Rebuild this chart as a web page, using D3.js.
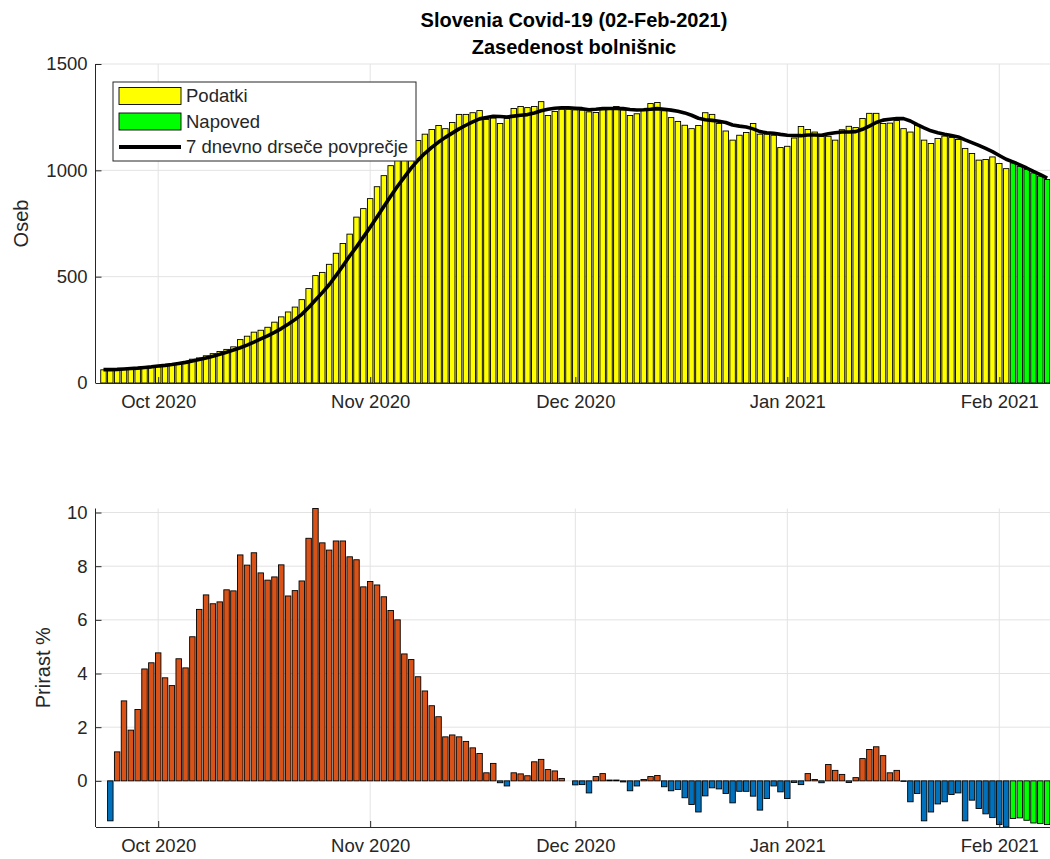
<!DOCTYPE html>
<html>
<head>
<meta charset="utf-8">
<script src="https://cdn.jsdelivr.net/npm/d3@7"></script>
<style>
  body { margin: 0; background: #fff; }
  text { font-family: "Liberation Sans", Arial, Helvetica, sans-serif; }
</style>
</head>
<body>
<div class="mainDiv"></div>
<script>
// days shown: 23 Sep 2020 .. 8 Feb 2021 (last 6 are forecast)
const dates = d3.timeDay.range(new Date(2020, 8, 23), new Date(2021, 1, 9));
const monthTicks = [new Date(2020, 9, 1), new Date(2020, 10, 1), new Date(2020, 11, 1), new Date(2021, 0, 1), new Date(2021, 1, 1)];
const tickLabels = ["Oct 2020", "Nov 2020", "Dec 2020", "Jan 2021", "Feb 2021"];

// hospital occupancy (Podatki), 23 Sep .. 2 Feb
const podatki = [
  62, 60, 61, 64, 64, 67, 70, 72,
  76, 80, 83, 87, 93, 112, 118, 128, 138, 148, 158, 170, 204, 220, 239, 248, 262, 286, 311, 334, 357, 392, 444, 505, 520, 558, 610, 656, 700, 780, 820,
  867, 923, 975, 1022, 1070, 1100, 1118, 1140, 1170, 1192, 1211, 1196, 1225, 1263, 1263, 1271, 1281, 1239, 1246, 1220, 1244, 1291, 1300, 1295, 1300, 1323, 1258, 1277, 1287, 1287,
  1284, 1283, 1275, 1272, 1286, 1290, 1300, 1284, 1258, 1266, 1281, 1314, 1319, 1280, 1248, 1230, 1212, 1196, 1211, 1271, 1263, 1220, 1185, 1142, 1165, 1178, 1220, 1170, 1170, 1165, 1107,
  1113, 1152, 1206, 1192, 1180, 1159, 1160, 1142, 1191, 1207, 1201, 1244, 1268, 1268, 1220, 1222, 1234, 1196, 1180, 1212, 1142, 1126, 1150, 1161, 1154, 1145, 1103, 1079, 1048, 1051, 1063,
  1032, 1008
];
// forecast (Napoved), 3 Feb .. 8 Feb
const napoved = [1035, 1019, 1005, 988, 973, 957];

// 7 dnevno drseče povprečje, 23 Sep .. 8 Feb
const povprecje = [
  63, 63, 64, 66, 68, 70, 73, 76,
  80, 83, 87, 92, 97, 103, 110, 118, 126, 135, 145, 155, 166, 178, 192, 207, 222, 238, 256, 276, 298, 323, 355, 390, 425, 462, 505, 550, 597, 640, 686,
  732, 780, 830, 878, 925, 968, 1010, 1048, 1080, 1108, 1133, 1155, 1175, 1195, 1212, 1228, 1242, 1248, 1254, 1253, 1251, 1255, 1259, 1262, 1270, 1280, 1287, 1292, 1294, 1294,
  1292, 1290, 1285, 1287, 1290, 1291, 1291, 1290, 1286, 1284, 1285, 1287, 1290, 1287, 1283, 1278, 1270, 1259, 1245, 1238, 1235, 1231, 1225, 1213, 1208, 1204, 1195, 1182, 1177, 1174, 1169,
  1165, 1164, 1163, 1166, 1166, 1165, 1172, 1177, 1180, 1180, 1182, 1193, 1208, 1225, 1236, 1240, 1244, 1243, 1232, 1215, 1200, 1186, 1177, 1170, 1164, 1157, 1143, 1130, 1117, 1103, 1088,
  1070, 1052, 1040, 1026, 1011, 995, 980, 963
];

// Prirast %, 24 Sep .. 2 Feb
const prirast = [
  -1.49, 1.08, 2.98, 1.89, 2.66, 4.17, 4.40,
  4.77, 3.84, 3.55, 4.55, 4.21, 5.37, 6.39, 6.93, 6.60, 6.67, 7.12, 7.08, 8.42, 8.04, 8.50, 7.75, 7.48, 7.60, 8.05, 6.89, 7.09, 7.45, 9.04, 10.15, 8.87, 8.60, 8.94, 8.94, 8.35, 8.24, 7.23,
  7.43, 7.30, 6.86, 6.35, 6.00, 4.73, 4.52, 3.88, 3.35, 2.80, 2.39, 1.64, 1.71, 1.64, 1.47, 1.23, 1.02, 0.30, 0.65, -0.07, -0.19, 0.30, 0.26, 0.19, 0.71, 0.80, 0.42, 0.37, 0.09, 0.00,
  -0.15, -0.14, -0.45, 0.16, 0.27, 0.03, 0.03, -0.04, -0.37, -0.19, 0.05, 0.16, 0.20, -0.22, -0.37, -0.32, -0.63, -0.88, -1.16, -0.56, -0.26, -0.30, -0.47, -0.82, -0.39, -0.39, -0.57, -1.09, -0.66, -0.19, -0.41,
  -0.66, -0.06, -0.14, 0.27, 0.05, -0.07, 0.61, 0.39, 0.24, -0.06, 0.12, 0.83, 1.17, 1.27, 0.94, 0.30, 0.39, -0.02, -0.78, -0.47, -1.49, -1.16, -0.86, -0.78, -0.51, -0.45, -1.49, -0.72, -1.03, -1.23, -1.37,
  -1.63, -1.72
];
const prirastNapoved = [-1.40, -1.38, -1.47, -1.57, -1.59, -1.63];

const colors = {data: "#ffff00", forecast: "#00ff00", up: "#d95319", down: "#0072bd", axis: "#262626", grid: "#e3e3e3"};

const W = 1050, H = 859;
const svg = d3.select(".mainDiv").append("svg").attr("width", W).attr("height", H);

const x = d3.scaleTime()
  .domain([new Date(2020, 8, 21, 20), new Date(2021, 1, 8, 17)])
  .range([95.5, 1052]);
const bw = 0.8 * (x(new Date(2020, 9, 2)) - x(new Date(2020, 9, 1)));

const pTop = {y0: 64, y1: 383};
const pBot = {y0: 508.5, y1: 827};
const yTop = d3.scaleLinear().domain([0, 1500]).range([pTop.y1, pTop.y0]);
const yBot = d3.scaleLinear().domain([-1.72, 10.15]).range([pBot.y1, pBot.y0]);

const barsTop = dates.map((d, i) => ({date: d, v: i < podatki.length ? podatki[i] : napoved[i - podatki.length], fc: i >= podatki.length}));
const avg = dates.map((d, i) => ({date: d, v: povprecje[i]}));
const barsBot = dates.slice(1).map((d, i) => ({date: d, v: i < prirast.length ? prirast[i] : prirastNapoved[i - prirast.length], fc: i >= prirast.length}));

function grid(g, y, vals, p) {
  g.selectAll(".hg").data(vals).join("line")
    .attr("x1", x.range()[0]).attr("x2", x.range()[1])
    .attr("y1", d => y(d)).attr("y2", d => y(d))
    .attr("stroke", colors.grid).attr("stroke-width", 1);
  g.selectAll(".vg").data(monthTicks).join("line")
    .attr("x1", d => x(d)).attr("x2", d => x(d))
    .attr("y1", p.y0).attr("y2", p.y1)
    .attr("stroke", colors.grid).attr("stroke-width", 1);
}

function axes(g, y, vals, p) {
  const ax = g.append("g").attr("transform", `translate(${x.range()[0]},0)`)
    .call(d3.axisLeft(y).tickValues(vals).tickFormat(d3.format("d"))
      .tickSize(-6).tickSizeOuter(0).tickPadding(8));
  ax.select(".domain").attr("d", `M0,${p.y0}V${p.y1}`);
  const bx = g.append("g").attr("transform", `translate(0,${p.y1})`)
    .call(d3.axisBottom(x).tickValues(monthTicks).tickFormat((d, i) => tickLabels[i])
      .tickSize(-6).tickSizeOuter(0).tickPadding(12));
  [ax, bx].forEach(a => {
    a.selectAll("path, line").attr("stroke", colors.axis);
    a.selectAll("text").attr("fill", colors.axis).style("font-size", "18.5px")
      .style("font-family", '"Liberation Sans", Arial, sans-serif');
  });
}

svg.append("clipPath").attr("id", "clipTop").append("rect")
  .attr("x", x.range()[0]).attr("y", pTop.y0).attr("width", x.range()[1] - x.range()[0]).attr("height", pTop.y1 - pTop.y0);
svg.append("clipPath").attr("id", "clipBot").append("rect")
  .attr("x", x.range()[0]).attr("y", pBot.y0 - 2).attr("width", x.range()[1] - x.range()[0]).attr("height", pBot.y1 - pBot.y0 + 2);

// top panel
const gTop = svg.append("g");
grid(gTop.append("g"), yTop, [500, 1000, 1500], pTop);
gTop.append("g").attr("clip-path", "url(#clipTop)")
  .selectAll("rect").data(barsTop).join("rect")
  .attr("x", d => x(d.date) - bw / 2)
  .attr("width", bw)
  .attr("y", d => yTop(d.v))
  .attr("height", d => yTop(0) - yTop(d.v))
  .attr("fill", d => d.fc ? colors.forecast : colors.data)
  .attr("stroke", "#000").attr("stroke-width", 0.9);
gTop.append("path").datum(avg)
  .attr("clip-path", "url(#clipTop)")
  .attr("fill", "none").attr("stroke", "#000").attr("stroke-width", 3.6)
  .attr("stroke-linejoin", "round")
  .attr("d", d3.line().x(d => x(d.date)).y(d => yTop(d.v)));
axes(gTop, yTop, [0, 500, 1000, 1500], pTop);

// legend
const lg = svg.append("g").attr("transform", "translate(113,82)");
lg.append("rect").attr("width", 303).attr("height", 79).attr("fill", "#fff").attr("stroke", colors.axis).attr("stroke-width", 1);
const items = [{label: "Podatki", type: "bar", color: colors.data}, {label: "Napoved", type: "bar", color: colors.forecast}, {label: "7 dnevno drseče povprečje", type: "line"}];
items.forEach((it, i) => {
  const cy = 14 + i * 25.5;
  if (it.type === "bar") {
    lg.append("rect").attr("x", 6).attr("y", cy - 8.5).attr("width", 62).attr("height", 17)
      .attr("fill", it.color).attr("stroke", "#000").attr("stroke-width", 0.9);
  } else {
    lg.append("line").attr("x1", 6).attr("x2", 68).attr("y1", cy).attr("y2", cy)
      .attr("stroke", "#000").attr("stroke-width", 4);
  }
  lg.append("text").attr("x", 73).attr("y", cy).attr("dy", "0.35em")
    .attr("fill", colors.axis).style("font-size", "18.5px").text(it.label);
});

// bottom panel
const gBot = svg.append("g");
grid(gBot.append("g"), yBot, [0, 2, 4, 6, 8, 10], pBot);
gBot.append("g").attr("clip-path", "url(#clipBot)")
  .selectAll("rect").data(barsBot).join("rect")
  .attr("x", d => x(d.date) - bw / 2)
  .attr("width", bw)
  .attr("y", d => yBot(Math.max(0, d.v)))
  .attr("height", d => Math.abs(yBot(d.v) - yBot(0)))
  .attr("fill", d => d.fc ? colors.forecast : (d.v >= 0 ? colors.up : colors.down))
  .attr("stroke", "#000").attr("stroke-width", 0.9);
axes(gBot, yBot, [0, 2, 4, 6, 8, 10], pBot);

// titles
svg.append("text").attr("x", 574).attr("y", 27).attr("text-anchor", "middle")
  .style("font-size", "20px").style("font-weight", "bold").attr("fill", "#000")
  .text("Slovenia Covid-19 (02-Feb-2021)");
svg.append("text").attr("x", 574).attr("y", 54).attr("text-anchor", "middle")
  .style("font-size", "20px").style("font-weight", "bold").attr("fill", "#000")
  .text("Zasedenost bolnišnic");

svg.append("text").attr("transform", `translate(28,${(pTop.y0 + pTop.y1) / 2}) rotate(-90)`)
  .attr("text-anchor", "middle").attr("fill", colors.axis).style("font-size", "20px").text("Oseb");
svg.append("text").attr("transform", `translate(50,${(pBot.y0 + pBot.y1) / 2}) rotate(-90)`)
  .attr("text-anchor", "middle").attr("fill", colors.axis).style("font-size", "20px").text("Prirast %");
</script>
</body>
</html>
